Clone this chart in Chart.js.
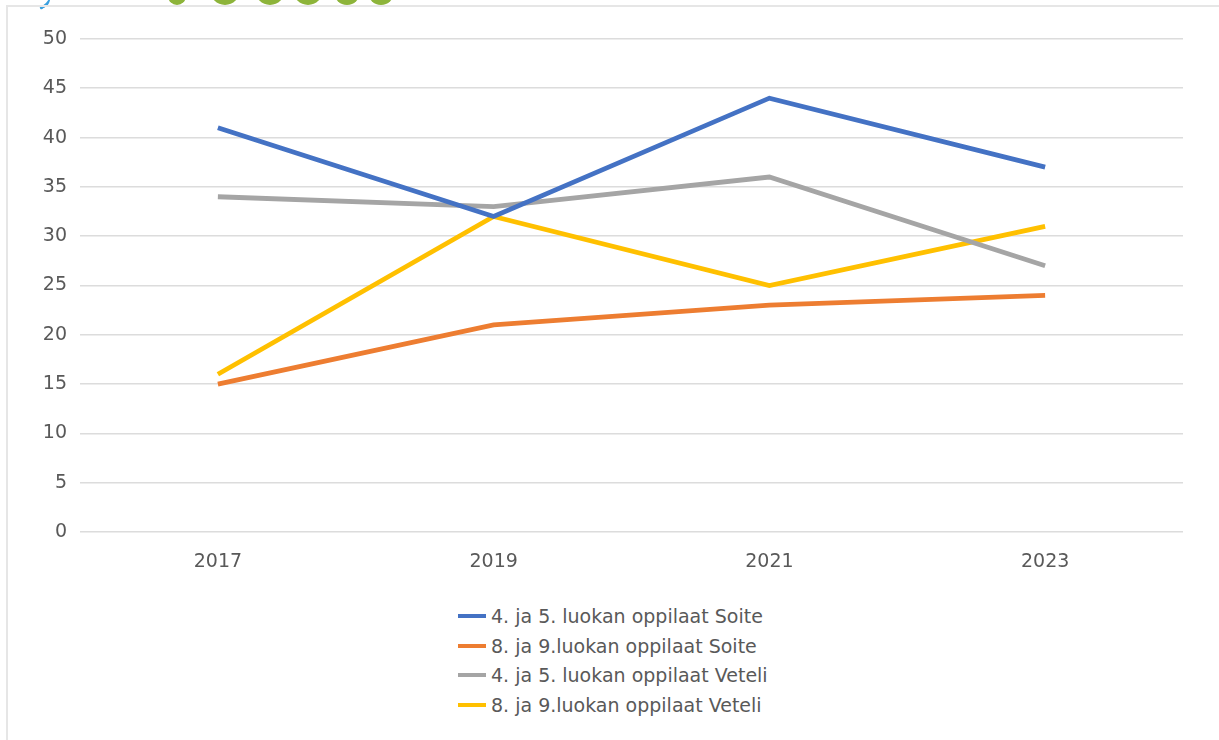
<!DOCTYPE html>
<html>
<head>
<meta charset="utf-8">
<script src="https://cdn.jsdelivr.net/npm/chart.js@4.4.1/dist/chart.umd.min.js"></script>
<style>
    body { margin: 0; background: #fff; width: 1219px; height: 740px; overflow: hidden; position: relative; font-family: "DejaVu Sans", sans-serif; }
    .frame { position: absolute; left: 6px; top: 5px; width: 1220px; height: 740px; border-top: 2px solid #e6e6e6; border-left: 2px solid #e6e6e6; }
    .logo-blue { position: absolute; left: 36px; top: -8px; width: 16px; height: 12px; border-bottom: 3px solid #3aa0e0; border-radius: 0 0 12px 0; transform: rotate(-30deg); }
    .logo-g { position: absolute; top: -20px; width: 30px; height: 25px; background: #8db43a; border-radius: 0 0 15px 15px; }
    #wrap { position: absolute; left: 0; top: 0; width: 1219px; height: 590px; }
    #legend { position: absolute; left: 458px; top: 601px; color: #595959; font-size: 19px; }
    #legend .row { height: 29.7px; display: flex; align-items: center; }
    #legend .sw { width: 28px; height: 4px; margin-right: 5px; }
</style>
</head>
<body>
<div class="logo-blue"></div>
<div class="logo-g" style="left:168px;width:18px"></div>
<div class="logo-g" style="left:210px"></div>
<div class="logo-g" style="left:255px"></div>
<div class="logo-g" style="left:293px"></div>
<div class="logo-g" style="left:334px;width:26px"></div>
<div class="logo-g" style="left:368px;width:26px"></div>
<div class="frame"></div>
<div id="wrap"><canvas id="lineChart"></canvas></div>
<div id="legend"></div>
<script>
// Chart data
const years = ['2017', '2019', '2021', '2023'];
const soite45 = [41, 32, 44, 37];
const soite89 = [15, 21, 23, 24];
const veteli45 = [34, 33, 36, 27];
const veteli89 = [16, 32, 25, 31];
const yTicks = [0, 5, 10, 15, 20, 25, 30, 35, 40, 45, 50];

const seriesNames = [
    '4. ja 5. luokan oppilaat Soite',
    '8. ja 9.luokan oppilaat Soite',
    '4. ja 5. luokan oppilaat Veteli',
    '8. ja 9.luokan oppilaat Veteli'
];
const seriesColors = ['#4472C4', '#ED7D31', '#A5A5A5', '#FFC000'];

document.addEventListener('DOMContentLoaded', function () {
    const font = { family: '"DejaVu Sans", sans-serif', size: 19 };
    const allData = [soite45, soite89, veteli45, veteli89];

    const ctx = document.getElementById('lineChart');
    new Chart(ctx, {
        type: 'line',
        data: {
            labels: years,
            datasets: allData.map(function (d, i) {
                return {
                    label: seriesNames[i],
                    data: d,
                    borderColor: seriesColors[i],
                    backgroundColor: seriesColors[i],
                    borderWidth: 4.8,
                    pointRadius: 0,
                    tension: 0,
                    fill: false
                };
            })
        },
        options: {
            responsive: true,
            maintainAspectRatio: false,
            animation: false,
            layout: { padding: { left: 0, right: 36, top: 39, bottom: 0 } },
            plugins: {
                legend: { display: false },
                tooltip: { enabled: false }
            },
            scales: {
                x: {
                    offset: true,
                    grid: { display: false, drawTicks: false },
                    border: { display: false },
                    ticks: { color: '#595959', font: font, padding: 19 },
                    afterFit: function (s) { s.height = 58; }
                },
                y: {
                    min: 0,
                    max: 50,
                    afterBuildTicks: function (s) { s.ticks = yTicks.map(v => ({ value: v })); },
                    grid: { color: '#dcdcdc', lineWidth: 1.6, drawTicks: false },
                    border: { display: false },
                    ticks: { color: '#595959', font: font, padding: 13 },
                    afterFit: function (s) { s.width = 80; }
                }
            }
        }
    });

    // Legend drawn as a vertical list like the original
    const legend = document.getElementById('legend');
    seriesNames.forEach(function (name, i) {
        const row = document.createElement('div');
        row.className = 'row';
        const sw = document.createElement('span');
        sw.className = 'sw';
        sw.style.background = seriesColors[i];
        const txt = document.createElement('span');
        txt.textContent = name;
        row.appendChild(sw);
        row.appendChild(txt);
        legend.appendChild(row);
    });
});
</script>
</body>
</html>
